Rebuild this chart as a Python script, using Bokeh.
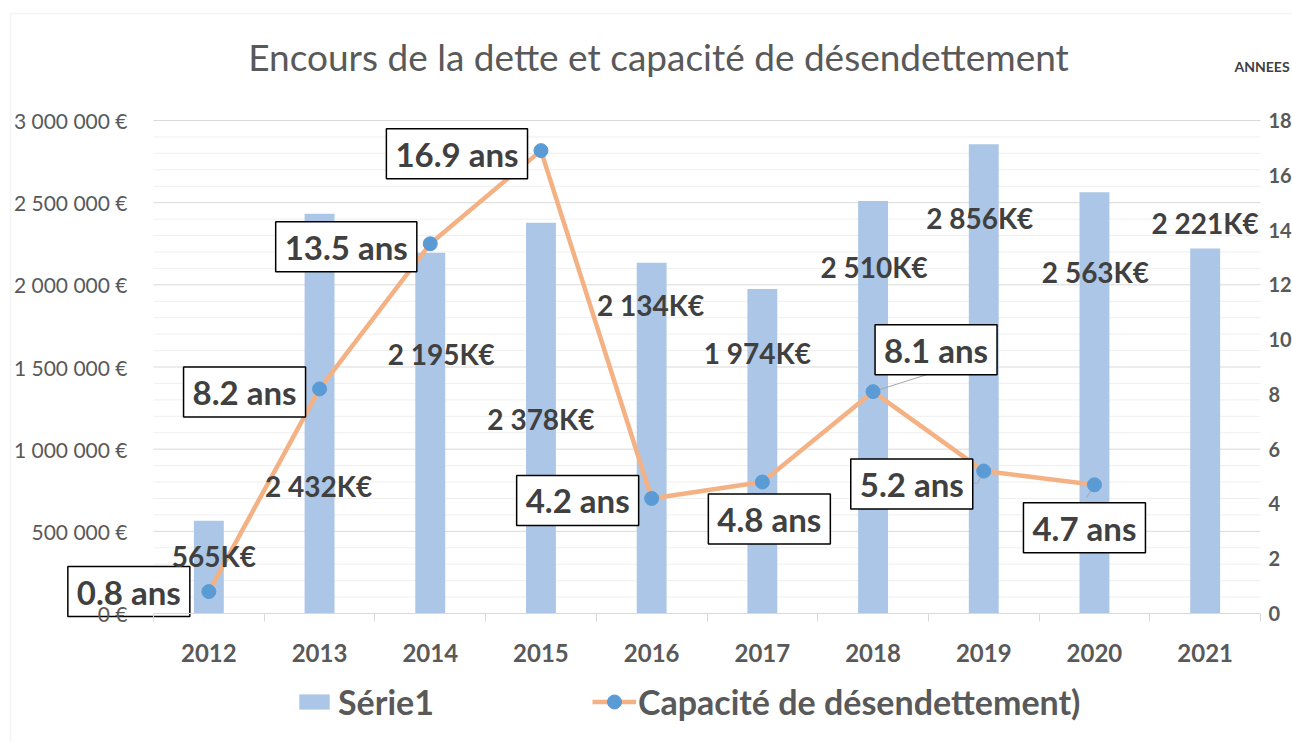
from bokeh.plotting import figure
from bokeh.models import (Range1d, LinearAxis, FixedTicker, Label, Legend,
                          LegendItem, ColumnDataSource, BoxAnnotation)
from bokeh.embed import file_html
from bokeh.resources import INLINE

# ---------------- data ----------------
years = [2012, 2013, 2014, 2015, 2016, 2017, 2018, 2019, 2020, 2021]
encours = [565000, 2432000, 2195000, 2378000, 2134000, 1974000,
           2510000, 2856000, 2563000, 2221000]
cap_years = [2012, 2013, 2014, 2015, 2016, 2017, 2018, 2019, 2020]
capacite = [0.8, 8.2, 13.5, 16.9, 4.2, 4.8, 8.1, 5.2, 4.7]
left_ticks = [0, 500000, 1000000, 1500000, 2000000, 2500000, 3000000]
minor_step = 100000
right_ticks = [0, 2, 4, 6, 8, 10, 12, 14, 16, 18]
title_text = "Encours de la dette et capacité de désendettement"
bar_name = "Série1"
line_name = "Capacité de désendettement)"
right_title = "ANNEES"

# ---------------- label placement (pixel offsets: dx right, dy down) ----------------
bar_lab_off = [(5, 35), (-1, 272), (11, 101), (0, 196), (-1, 42), (-5, 64),
               (1, 66), (-4, 74), (1, 80), (0, -26)]
cap_lab_off = [(-80, 0), (-75, 3), (-84, 3), (-84, 3), (-74, 2), (7, 37),
               (63, -42), (-72, 13), (-10, 43)]

FONT = "Lato"
GRAY = "#595959"
DARK = "#404040"
W, H = 1292, 742
# plot area in canvas pixels
PX_L, PX_R, PX_T, PX_B = 153, 1260, 120, 613
X0, X1 = years[0] - 0.5, years[-1] + 0.5
YMAX = left_ticks[-1]
AMAX = right_ticks[-1]

xpx = (PX_R - PX_L) / (X1 - X0)          # px per year
ypx = (PX_B - PX_T) / YMAX               # px per euro
apx = (PX_B - PX_T) / AMAX               # px per "an"


def px2x(px):
    return X0 + (px - PX_L) / xpx


def px2y(py):
    return (PX_B - py) / ypx


p = figure(width=W, height=H,
           x_range=Range1d(px2x(0), px2x(W)),
           y_range=Range1d(px2y(H), px2y(0)),
           output_backend="svg", toolbar_location=None, min_border=0)
p.outline_line_color = None
p.extra_y_ranges = {"ans": Range1d((PX_B - H) / apx, PX_B / apx)}
p.xgrid.visible = False
p.ygrid.visible = False

# chart border
p.add_layout(BoxAnnotation(left=px2x(10), top=px2y(13), right=px2x(W + 20),
                           bottom=px2y(H + 20), fill_alpha=0,
                           line_color="#D9D9D9", line_width=1.5, level="underlay"))

# horizontal gridlines (minor then major), spanning the plot area only
minor_vals = [v for v in range(minor_step, YMAX + 1, minor_step) if v not in left_ticks]
p.segment(x0=[X0] * len(minor_vals), x1=[X1] * len(minor_vals), y0=minor_vals,
          y1=minor_vals, line_color="#EFEFEF", line_width=1, level="underlay")
major_vals = left_ticks[1:]
p.segment(x0=[X0] * len(major_vals), x1=[X1] * len(major_vals), y0=major_vals,
          y1=major_vals, line_color="#D9D9D9", line_width=1, level="underlay")

# x axis
xa = p.xaxis[0]
xa.fixed_location = 0
xa.bounds = (X0, X1)
xa.ticker = FixedTicker(ticks=years, minor_ticks=[y - 0.5 for y in years] + [X1])
xa.major_tick_line_color = None
xa.major_tick_out = 0
xa.major_tick_in = 0
xa.minor_tick_out = 8
xa.minor_tick_in = 0
xa.minor_tick_line_color = "#D9D9D9"
xa.axis_line_color = "#D9D9D9"
xa.major_label_text_font = FONT
xa.major_label_text_font_style = "bold"
xa.major_label_text_font_size = "24px"
xa.major_label_text_color = GRAY
xa.major_label_standoff = 22

# left axis
ya = p.yaxis[0]
ya.fixed_location = X0
ya.bounds = (0, YMAX)
ya.ticker = FixedTicker(ticks=left_ticks)
ya.major_label_overrides = {t: f"{t:,} €".replace(",", " ") for t in left_ticks}
ya.axis_line_color = None
ya.major_tick_line_color = None
ya.minor_tick_line_color = None
ya.major_tick_out = 0
ya.major_label_standoff = 26
ya.major_label_text_font = FONT
ya.major_label_text_font_size = "21px"
ya.major_label_text_color = GRAY

# right axis
ra = LinearAxis(y_range_name="ans", ticker=FixedTicker(ticks=right_ticks),
                fixed_location=X1, bounds=(0, AMAX))
ra.axis_line_color = None
ra.major_tick_line_color = None
ra.minor_tick_line_color = None
ra.major_tick_out = 0
ra.major_label_standoff = 8
ra.major_label_text_font = FONT
ra.major_label_text_font_style = "bold"
ra.major_label_text_font_size = "20px"
ra.major_label_text_color = GRAY
p.add_layout(ra, "right")

# capacity labels in white boxes
def cap_label(k, level="annotation"):
    yr, v, (dx, dy) = cap_years[k], capacite[k], cap_lab_off[k]
    return Label(x=yr, y=v, y_range_name="ans", x_offset=dx, y_offset=-dy,
                 text=f"{v} ans", text_align="center", text_baseline="middle",
                 text_font=FONT, text_font_style="bold", text_font_size="33px",
                 text_color=DARK, background_fill_color="white",
                 border_line_color="black", border_line_width=1.5,
                 padding=(9, 5), level=level)

# the 2012 box sits under the axis labels, over the grid
p.add_layout(cap_label(0, "underlay"))

# bars
src = ColumnDataSource(dict(x=years, top=encours))
bars = p.vbar(x="x", top="top", width=0.27, source=src,
              fill_color="#ABC6E6", line_color=None)

# leader lines (from point towards its label box)
lead = {6: [(0, 0), (60, -19)], 7: [(0, 0), (-6, 12), (-15, 12)], 8: [(0, 0), (-8, 13)]}
for i, pts in lead.items():
    xs = [cap_years[i] + dx / xpx for dx, dy in pts]
    ys = [capacite[i] - dy / apx for dx, dy in pts]
    p.line(xs, ys, y_range_name="ans", line_color="#A6A6A6", line_width=1)

# line + markers
lsrc = ColumnDataSource(dict(x=cap_years, y=capacite))
ln = p.line(x="x", y="y", source=lsrc, y_range_name="ans",
            line_color="#F4B183", line_width=4.5)
mk = p.scatter(x="x", y="y", source=lsrc, y_range_name="ans", size=14,
               fill_color="#5B9BD5", line_color="#5B9BD5")

# bar value labels
for yr, v, (dx, dy) in zip(years, encours, bar_lab_off):
    p.add_layout(Label(x=yr, y=v, x_offset=dx, y_offset=-dy,
                       text=f"{v // 1000:,}K€".replace(",", " "),
                       text_align="center", text_baseline="middle",
                       text_font=FONT, text_font_style="bold",
                       text_font_size="28px", text_color=DARK))

for k in range(1, len(cap_years)):
    p.add_layout(cap_label(k))

# title & right axis title
p.add_layout(Label(x=px2x(658), y=px2y(56), text=title_text,
                   text_align="center", text_baseline="middle", text_font=FONT,
                   text_font_size="37px", text_color=GRAY))
p.add_layout(Label(x=px2x(1234), y=px2y(66), text=right_title,
                   text_align="left", text_baseline="middle", text_font=FONT,
                   text_font_style="bold", text_font_size="14px", text_color=DARK))

# legends
def mk_legend(items, loc, gw, gh, standoff):
    lg = Legend(items=items, location=loc, orientation="horizontal",
                glyph_width=gw, glyph_height=gh, label_standoff=standoff,
                label_text_font=FONT, label_text_font_style="bold",
                label_text_font_size="34px", label_text_color=GRAY,
                padding=0, margin=0, border_line_color=None,
                background_fill_alpha=0)
    p.add_layout(lg)

mk_legend([LegendItem(label=bar_name, renderers=[bars])], (295, 20), 38, 19, 5)
mk_legend([LegendItem(label=line_name, renderers=[ln, mk])], (592, 20), 44, 35, 2)

open("out.html", "w").write(file_html(p, INLINE))
